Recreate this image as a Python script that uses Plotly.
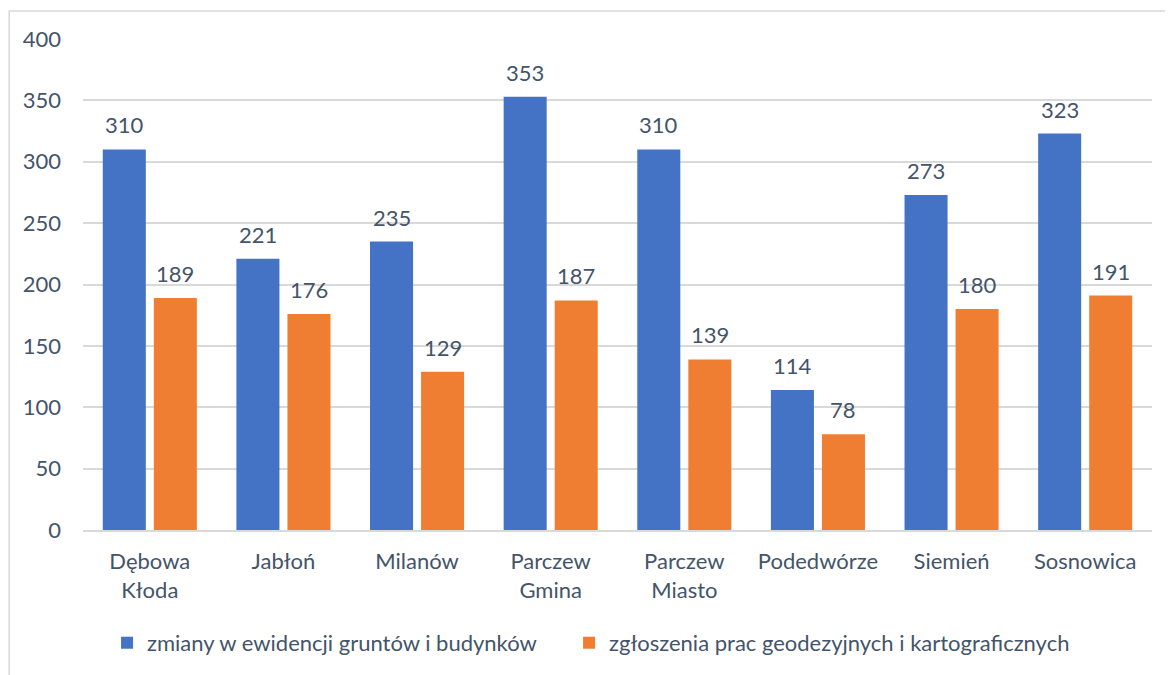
import plotly.graph_objects as go

categories = ["Dębowa<br>Kłoda", "Jabłoń", "Milanów", "Parczew<br>Gmina", "Parczew<br>Miasto",
              "Podedwórze", "Siemień", "Sosnowica"]
series_names = ["zmiany w ewidencji gruntów i budynków",
                "zgłoszenia prac geodezyjnych i kartograficznych"]
zmiany = [310, 221, 235, 353, 310, 114, 273, 323]
zgloszenia = [189, 176, 129, 187, 139, 78, 180, 191]
y_ticks = [0, 50, 100, 150, 200, 250, 300, 350, 400]

FONT = "Lato"
TXT = "#44546A"
BLUE = "#4472C4"
ORANGE = "#F07E32"
FS = 22

fig = go.Figure()
fig.add_trace(go.Bar(name=series_names[0], x=categories, y=zmiany, legend="legend",
                     marker=dict(color=BLUE, line=dict(width=0))))
fig.add_trace(go.Bar(name=series_names[1], x=categories, y=zgloszenia, legend="legend2",
                     marker=dict(color=ORANGE, line=dict(width=0))))

bargap = 0.236
off = (1 - bargap) / 4
for i, (a, b) in enumerate(zip(zmiany, zgloszenia)):
    for val, dx in ((a, -off), (b, off)):
        fig.add_annotation(x=i + dx, y=val, xref="x", yref="y", text=str(val),
                           showarrow=False, yanchor="bottom", yshift=9,
                           font=dict(family=FONT, size=FS, color=TXT))

fig.add_shape(type="rect", xref="paper", yref="paper",
              x0=-0.069, x1=1.2, y0=-0.5, y1=1.057,
              line=dict(color="#D9D9D9", width=1.5), fillcolor="rgba(0,0,0,0)", layer="below")

leg_common = dict(orientation="h", xanchor="left", y=-0.23, yanchor="middle",
                  font=dict(family=FONT, size=FS, color=TXT), itemsizing="constant",
                  bgcolor="rgba(0,0,0,0)")

fig.update_layout(
    width=1173, height=675,
    margin=dict(l=75, r=29, t=31, b=153),
    paper_bgcolor="white", plot_bgcolor="white",
    barmode="group", bargap=bargap, bargroupgap=0.157,
    font=dict(family=FONT, size=FS, color=TXT),
    showlegend=True,
    legend=dict(x=0.0225, **leg_common),
    legend2=dict(x=0.4547, **leg_common),
)
fig.update_yaxes(range=[0, 400], tickvals=y_ticks, showgrid=True, gridcolor="#D9D9D9",
                 gridwidth=1.5, zeroline=False, showline=False, ticks="",
                 ticklabelstandoff=21, tickfont=dict(family=FONT, size=FS, color=TXT))
fig.update_xaxes(showline=True, linecolor="#D9D9D9", linewidth=1.5, ticks="",
                 ticklabelstandoff=11, tickfont=dict(family=FONT, size=FS, color=TXT))

fig.write_html("out.html")
